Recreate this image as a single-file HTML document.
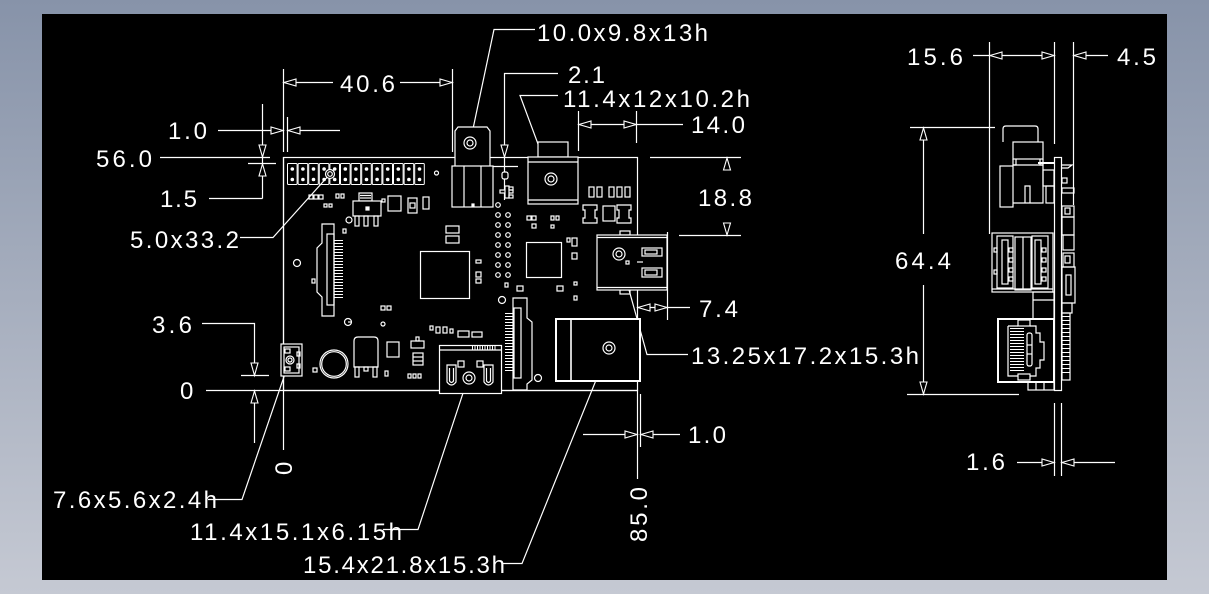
<!DOCTYPE html>
<html><head><meta charset="utf-8">
<style>
html,body{margin:0;padding:0;width:1209px;height:594px;overflow:hidden;background:linear-gradient(#8793a9,#c5c9d3);}
svg{display:block}
text{font-family:"Liberation Sans",sans-serif;font-size:24px;fill:#fff;}
</style></head><body>
<svg width="1209" height="594" viewBox="0 0 1209 594">
<rect x="42" y="14" width="1125" height="566" fill="#000"/>

<!-- ============ DIMENSION LINES ============ -->
<g stroke="#fff" stroke-width="1.2" fill="none">
  <line x1="283.5" y1="69" x2="283.5" y2="152"/>
  <line x1="452.5" y1="69" x2="452.5" y2="152"/>
  <line x1="283" y1="82.5" x2="333" y2="82.5"/>
  <line x1="400" y1="82.5" x2="452" y2="82.5"/>
  <line x1="218" y1="130.5" x2="283" y2="130.5"/>
  <line x1="287.5" y1="117" x2="287.5" y2="152"/>
  <line x1="288" y1="130.5" x2="340" y2="130.5"/>
  <line x1="262.5" y1="104" x2="262.5" y2="198.5"/>
  <line x1="160" y1="157.5" x2="270" y2="157.5"/>
  <line x1="248" y1="163.5" x2="276" y2="163.5"/>
  <line x1="209" y1="198.5" x2="262.5" y2="198.5"/>
  <polyline points="240,237.5 273,237.5 330,174"/>
  <polyline points="535,29.5 494,29.5 470,143"/>
  <polyline points="558,73.5 504.5,73.5 504.5,200"/>
  <polyline points="558,95.5 520,95.5 551,179"/>
  <line x1="578.5" y1="111" x2="578.5" y2="151"/>
  <line x1="636.5" y1="111" x2="636.5" y2="143"/>
  <line x1="580" y1="124.5" x2="683" y2="124.5"/>
  <line x1="650" y1="157.5" x2="741" y2="157.5"/>
  <line x1="679" y1="235.5" x2="741" y2="235.5"/>
  <line x1="637" y1="307.5" x2="690" y2="307.5"/>
  <line x1="667.5" y1="232" x2="667.5" y2="320"/>
  <polyline points="688,354.5 647,354.5 619,254"/>
  <line x1="583" y1="434.5" x2="637" y2="434.5"/>
  <line x1="637.5" y1="390" x2="637.5" y2="479"/>
  <line x1="640.5" y1="394" x2="640.5" y2="447"/>
  <line x1="641" y1="434.5" x2="680" y2="434.5"/>
  <polyline points="202,323.5 254.5,323.5 254.5,375"/>
  <line x1="241" y1="375.5" x2="269" y2="375.5"/>
  <line x1="206" y1="390.5" x2="637" y2="390.5"/>
  <line x1="254.5" y1="390.5" x2="254.5" y2="443"/>
  <line x1="283.5" y1="157" x2="283.5" y2="450"/>
  <polyline points="208,499.5 242,499.5 289,362"/>
  <polyline points="383,529.5 418,529.5 468,378"/>
  <polyline points="503,563.5 522,563.5 609,348"/>

  <line x1="973" y1="55.5" x2="1054" y2="55.5"/>
  <line x1="989.5" y1="42" x2="989.5" y2="234"/>
  <line x1="1054.5" y1="42" x2="1054.5" y2="144"/>
  <line x1="1073.5" y1="42" x2="1073.5" y2="205"/>
  <line x1="1074" y1="55.5" x2="1108" y2="55.5"/>
  <line x1="910" y1="127.5" x2="995" y2="127.5"/>
  <line x1="923.5" y1="127" x2="923.5" y2="234"/>
  <line x1="923.5" y1="285" x2="923.5" y2="394"/>
  <line x1="907" y1="394.5" x2="1019" y2="394.5"/>
  <line x1="1017" y1="462.5" x2="1054" y2="462.5"/>
  <line x1="1054.5" y1="403" x2="1054.5" y2="476"/>
  <line x1="1061.5" y1="403" x2="1061.5" y2="476"/>
  <line x1="1062" y1="462.5" x2="1115" y2="462.5"/>
</g>

<g stroke="#fff" stroke-width="1.1" fill="#000">
  <polygon points="284,82.5 296,79 296,86"/>
  <polygon points="452,82.5 440,79 440,86"/>
  <polygon points="283,130.5 271,127 271,134"/>
  <polygon points="288,130.5 300,127 300,134"/>
  <polygon points="262.5,157 259,145 266,145"/>
  <polygon points="262.5,164 259,176 266,176"/>
  <polygon points="504.5,157 501,145 508,145"/>
  <polygon points="579,124.5 591,121 591,128"/>
  <polygon points="636,124.5 624,121 624,128"/>
  <polygon points="727,158 723.5,170 730.5,170"/>
  <polygon points="727,235 723.5,223 730.5,223"/>
  <polygon points="638,307.5 650,304 650,311"/>
  <polygon points="667,307.5 655,304 655,311"/>
  <polygon points="637,434.5 625,431 625,438"/>
  <polygon points="641,434.5 653,431 653,438"/>
  <polygon points="254.5,375.5 251,363 258,363"/>
  <polygon points="254.5,391 251,403 258,403"/>
  <polygon points="990,55.5 1002,52 1002,59"/>
  <polygon points="1054,55.5 1042,52 1042,59"/>
  <polygon points="1074,55.5 1086,52 1086,59"/>
  <polygon points="923.5,128 920,140 927,140"/>
  <polygon points="923.5,394 920,382 927,382"/>
  <polygon points="1054,462.5 1042,459 1042,466"/>
  <polygon points="1062,462.5 1074,459 1074,466"/>
</g>

<!-- ============ BOARD TOP VIEW ============ -->
<g stroke="#fff" stroke-width="1.2" fill="none">
  <rect x="283.5" y="157.5" width="354" height="233"/>
  <line x1="491" y1="166.5" x2="518" y2="166.5"/>

  <g stroke-width="1">
    <rect x="287.5" y="163.5" width="9.6" height="21" rx="1"/>
    <rect x="298.1" y="163.5" width="9.6" height="21" rx="1"/>
    <rect x="308.7" y="163.5" width="9.6" height="21" rx="1"/>
    <rect x="319.3" y="163.5" width="9.6" height="21" rx="1"/>
    <rect x="329.9" y="163.5" width="9.6" height="21" rx="1"/>
    <rect x="340.5" y="163.5" width="9.6" height="21" rx="1"/>
    <rect x="351.1" y="163.5" width="9.6" height="21" rx="1"/>
    <rect x="361.7" y="163.5" width="9.6" height="21" rx="1"/>
    <rect x="372.3" y="163.5" width="9.6" height="21" rx="1"/>
    <rect x="382.9" y="163.5" width="9.6" height="21" rx="1"/>
    <rect x="393.5" y="163.5" width="9.6" height="21" rx="1"/>
    <rect x="404.1" y="163.5" width="9.6" height="21" rx="1"/>
    <rect x="414.7" y="163.5" width="9.6" height="21" rx="1"/>
  </g>
  <g fill="#fff" stroke="none">
    <circle cx="292.3" cy="169" r="1.8"/><circle cx="292.3" cy="179.5" r="1.8"/>
    <circle cx="302.9" cy="169" r="1.8"/><circle cx="302.9" cy="179.5" r="1.8"/>
    <circle cx="313.5" cy="169" r="1.8"/><circle cx="313.5" cy="179.5" r="1.8"/>
    <circle cx="324.1" cy="169" r="1.8"/><circle cx="324.1" cy="179.5" r="1.8"/>
    <circle cx="334.7" cy="169" r="1.8"/><circle cx="334.7" cy="179.5" r="1.8"/>
    <circle cx="345.3" cy="169" r="1.8"/><circle cx="345.3" cy="179.5" r="1.8"/>
    <circle cx="355.9" cy="169" r="1.8"/><circle cx="355.9" cy="179.5" r="1.8"/>
    <circle cx="366.5" cy="169" r="1.8"/><circle cx="366.5" cy="179.5" r="1.8"/>
    <circle cx="377.1" cy="169" r="1.8"/><circle cx="377.1" cy="179.5" r="1.8"/>
    <circle cx="387.7" cy="169" r="1.8"/><circle cx="387.7" cy="179.5" r="1.8"/>
    <circle cx="398.3" cy="169" r="1.8"/><circle cx="398.3" cy="179.5" r="1.8"/>
    <circle cx="408.9" cy="169" r="1.8"/><circle cx="408.9" cy="179.5" r="1.8"/>
    <circle cx="419.5" cy="169" r="1.8"/><circle cx="419.5" cy="179.5" r="1.8"/>
  </g>
  <circle cx="330" cy="174" r="4.5" fill="#000"/>
  <circle cx="330" cy="174" r="2.3"/>
  <circle cx="436.5" cy="173" r="2"/>

  <rect x="309" y="195" width="4" height="4"/>
  <rect x="314" y="195" width="4" height="4"/>
  <rect x="319" y="195" width="4" height="4"/>
  <rect x="336" y="194" width="3" height="4"/>
  <rect x="341" y="194" width="3" height="4"/>
  <rect x="324" y="204" width="3" height="3"/>
  <rect x="329" y="204" width="3" height="3"/>

  <rect x="359" y="193" width="13" height="8"/>
  <line x1="360" y1="195.5" x2="371" y2="195.5"/>
  <line x1="360" y1="198" x2="371" y2="198"/>
  <rect x="353" y="201" width="28" height="15" fill="#000"/>
  <rect x="366" y="207" width="3" height="3" fill="#fff"/>
  <rect x="355" y="216" width="4" height="10"/>
  <rect x="364" y="216" width="4" height="10"/>
  <rect x="374" y="216" width="4" height="10"/>
  <rect x="382" y="199" width="3" height="3"/>
  <circle cx="349" cy="220" r="3"/>

  <rect x="388" y="196" width="13" height="15"/>
  <rect x="408" y="198" width="9" height="15"/>
  <rect x="410" y="203" width="5" height="5"/>
  <rect x="423" y="197" width="6" height="12"/>

  <path d="M322,224 H334 V316 H322 V297 L317,292 V248 L322,243 Z"/>
  <rect x="327" y="234" width="7" height="71"/>
  <line x1="338.5" y1="240" x2="338.5" y2="300" stroke-width="9" stroke-dasharray="1 2"/>
  <rect x="343" y="229" width="3" height="4"/>
  <rect x="312" y="279" width="3" height="4"/>
  <circle cx="297" cy="263" r="3.5"/>

  <rect x="446" y="226" width="13" height="7"/>
  <rect x="446" y="236" width="13" height="7"/>
  <rect x="420.5" y="251.5" width="49" height="47"/>
  <rect x="476" y="260" width="5" height="3"/>
  <rect x="476" y="272" width="5" height="5"/>
  <rect x="476" y="279" width="5" height="4"/>

  <circle cx="498" cy="205" r="2.3"/>
  <circle cx="498" cy="215" r="2.3"/><circle cx="508" cy="215" r="2.3"/>
  <circle cx="498" cy="225" r="2.3"/><circle cx="508" cy="225" r="2.3"/>
  <circle cx="498" cy="235" r="2.3"/><circle cx="508" cy="235" r="2.3"/>
  <circle cx="498" cy="245" r="2.3"/><circle cx="508" cy="245" r="2.3"/>
  <circle cx="498" cy="255" r="2.3"/><circle cx="508" cy="255" r="2.3"/>
  <circle cx="498" cy="265" r="2.3"/><circle cx="508" cy="265" r="2.3"/>
  <circle cx="498" cy="275" r="2.3"/><circle cx="508" cy="275" r="2.3"/>
  <rect x="505" y="283" width="3" height="4"/>
  <circle cx="502" cy="300" r="3.5"/>

  <rect x="502" y="172" width="6" height="7" rx="2" fill="#000"/>
  <rect x="500" y="190" width="13" height="3" fill="#000"/>
  <rect x="505" y="186" width="4" height="12" fill="#000"/>
  <rect x="509" y="187" width="4" height="3"/>
  <rect x="509" y="195" width="4" height="3"/>

  <path d="M455,167 V131 L458,127 H487 L490,131 V167 Z" fill="#000"/>
  <circle cx="470" cy="143" r="6"/>
  <circle cx="470" cy="143" r="3"/>
  <rect x="452" y="166" width="41" height="41" fill="#000"/>
  <line x1="464" y1="166" x2="464" y2="207"/>
  <line x1="481" y1="166" x2="481" y2="207"/>
  <rect x="472" y="204" width="2" height="2" fill="#fff"/>

  <rect x="538" y="142" width="30" height="15" fill="#000"/>
  <rect x="528" y="157" width="50" height="47" fill="#000"/>
  <line x1="528" y1="162" x2="578" y2="162"/>
  <line x1="528" y1="200" x2="578" y2="200"/>
  <circle cx="551" cy="179" r="6"/>
  <circle cx="551" cy="179" r="3"/>

  <rect x="589" y="187" width="5" height="10"/>
  <rect x="597" y="187" width="5" height="10"/>
  <rect x="609" y="187" width="5" height="10"/>
  <rect x="617" y="187" width="5" height="10"/>
  <rect x="625" y="187" width="5" height="10"/>
  <path d="M583,205 H597 V210 H595 V218 H597 V223 H583 V218 H585 V210 H583 Z"/>
  <rect x="603" y="206" width="12" height="15"/>
  <path d="M617,205 H631 V210 H629 V218 H631 V223 H617 V218 H619 V210 H617 Z"/>
  <rect x="527" y="216" width="4" height="4"/>
  <rect x="532" y="216" width="4" height="4"/>
  <rect x="551" y="216" width="3" height="4"/>
  <rect x="556" y="216" width="3" height="4"/>
  <rect x="532" y="224" width="4" height="4"/>
  <rect x="551" y="225" width="3" height="3"/>
  <rect x="526.5" y="242.5" width="35" height="35"/>
  <rect x="567" y="238" width="3" height="4"/>
  <rect x="572" y="238" width="5" height="8"/>
  <rect x="572" y="253" width="5" height="6"/>
  <rect x="517" y="286" width="6" height="5"/>
  <rect x="557" y="286" width="6" height="5"/>
  <rect x="574" y="282" width="3" height="3"/>
  <rect x="574" y="296" width="3" height="4"/>

  <rect x="620" y="231" width="10" height="4"/>
  <rect x="620" y="290" width="10" height="4"/>
  <rect x="597" y="235" width="70" height="55" fill="#000"/>
  <line x1="597" y1="237.5" x2="667" y2="237.5"/>
  <line x1="597" y1="287.5" x2="667" y2="287.5"/>
  <circle cx="619" cy="254" r="6"/>
  <circle cx="619" cy="254" r="3"/>
  <rect x="642" y="248" width="20" height="8"/>
  <rect x="645" y="250" width="12" height="4"/>
  <rect x="642" y="268" width="20" height="9"/>
  <rect x="645" y="270" width="12" height="5"/>
  <rect x="626" y="261" width="3" height="3"/>
  <line x1="637" y1="262" x2="643" y2="262"/>

  <path d="M513,298 H527 V318 L532,322 V380 L527,384 V390 H513 Z" fill="#000"/>
  <rect x="514" y="308" width="7" height="70"/>
  <line x1="509.5" y1="313" x2="509.5" y2="373" stroke-width="9" stroke-dasharray="1 2"/>
  <circle cx="538" cy="378" r="3.5"/>

  <rect x="556" y="319" width="84" height="62" fill="#000" stroke-width="2"/>
  <line x1="571" y1="319" x2="571" y2="381" stroke-width="1.6"/>
  <circle cx="609" cy="348" r="6"/>
  <circle cx="609" cy="348" r="3"/>

  <line x1="348" y1="322" x2="352" y2="322"/>
  <circle cx="348" cy="322" r="3.5"/>
  <circle cx="383" cy="324" r="2"/>
  <rect x="381" y="306" width="4" height="4"/>
  <rect x="387" y="306" width="4" height="4"/>

  <rect x="281" y="344" width="21" height="32" fill="#000"/>
  <rect x="284" y="347" width="15" height="26"/>
  <rect x="285" y="349" width="5" height="4"/>
  <rect x="285" y="367" width="5" height="4"/>
  <rect x="297" y="352" width="3" height="4"/>
  <rect x="297" y="364" width="3" height="4"/>
  <circle cx="290" cy="360" r="4"/>
  <circle cx="290" cy="360" r="2"/>

  <rect x="313" y="368" width="4" height="4"/>
  <circle cx="334" cy="364" r="14"/>
  <circle cx="334" cy="364" r="12.3"/>

  <path d="M354,367 V341 Q354,337 358,337 H374 Q378,337 378,341 V367 Z"/>
  <rect x="355" y="367" width="4" height="10"/>
  <rect x="364" y="367" width="4" height="4"/>
  <rect x="373" y="367" width="4" height="10"/>
  <rect x="385" y="371" width="3" height="5"/>
  <rect x="387" y="342" width="12" height="15"/>

  <rect x="411" y="341" width="13" height="7"/>
  <rect x="416" y="337" width="3" height="4"/>
  <rect x="413" y="353" width="10" height="12"/>
  <line x1="413" y1="357" x2="423" y2="357"/>
  <line x1="413" y1="361" x2="423" y2="361"/>
  <rect x="408" y="374" width="3" height="4"/>
  <rect x="413" y="374" width="3" height="4"/>
  <rect x="418" y="374" width="3" height="4"/>

  <rect x="430" y="326" width="3" height="4"/>
  <rect x="436" y="327" width="4" height="6"/>
  <rect x="443" y="327" width="4" height="6"/>
  <rect x="450" y="329" width="3" height="4"/>
  <rect x="458" y="331" width="11" height="6"/>
  <rect x="472" y="332" width="10" height="5"/>

  <rect x="439.5" y="345.5" width="62" height="48" fill="#000"/>
  <line x1="440" y1="350" x2="501" y2="350"/>
  <line x1="472" y1="347.5" x2="497" y2="347.5" stroke-width="4" stroke-dasharray="1 1.5"/>
  <path d="M447,365 V382 Q451.5,388 456,382 V365 Z"/>
  <path d="M449.5,368 V381 Q451.5,384 453.5,381 V368"/>
  <path d="M484,365 V382 Q488.5,388 493,382 V365 Z"/>
  <path d="M486.5,368 V381 Q488.5,384 490.5,381 V368"/>
  <rect x="458" y="361" width="6" height="6"/>
  <rect x="477" y="361" width="6" height="6"/>
  <circle cx="469" cy="378" r="6"/>
  <circle cx="469" cy="378" r="3"/>
</g>

<!-- ============ SIDE VIEW ============ -->
<g stroke="#fff" stroke-width="1.2" fill="none">
  <path d="M1003,142 V129 Q1003,126 1006,126 H1035 Q1038,126 1038,129 V142"/>
  <rect x="1013" y="142" width="30" height="17"/>
  <path d="M1013,159 V165 H1016 V159 M1040,159 V165 H1043 V159"/>
  <rect x="1000" y="166" width="13" height="41"/>
  <path d="M1013,165 H1043 V203 H1013"/>
  <path d="M1025,203 V186 H1030 V203"/>
  <line x1="1038" y1="163" x2="1054" y2="163" stroke-width="2"/>
  <rect x="1043" y="170" width="11" height="16"/>
  <rect x="1046" y="186" width="8" height="17"/>

  <rect x="1054.5" y="157.5" width="7" height="233" fill="#000"/>

  <path d="M1062,165 H1072 L1068,168 H1062"/>
  <rect x="1062" y="178" width="5" height="5"/>
  <rect x="1062" y="188" width="12" height="5"/>
  <rect x="1062" y="206" width="12" height="11"/>
  <rect x="1065" y="208" width="5" height="6"/>
  <rect x="1062" y="217" width="12" height="18"/>
  <rect x="1063" y="235" width="11" height="15"/>
  <rect x="1063" y="253" width="11" height="14"/>
  <rect x="1065" y="256" width="5" height="7"/>
  <rect x="1062" y="267" width="13" height="36"/>
  <rect x="1066" y="275" width="5" height="20"/>
  <rect x="1062" y="303" width="10" height="10"/>
  <rect x="1062" y="313" width="8" height="67"/>
  <line x1="1066" y1="316" x2="1066" y2="376" stroke-width="8" stroke-dasharray="1 3"/>

  <rect x="992" y="233" width="61" height="59" fill="#000"/>
  <rect x="997" y="236" width="16" height="52"/>
  <rect x="1002" y="240" width="6" height="44"/>
  <rect x="1009" y="248" width="4" height="4"/>
  <rect x="1009" y="258" width="4" height="4"/>
  <rect x="1009" y="268" width="4" height="4"/>
  <rect x="1009" y="277" width="4" height="4"/>
  <rect x="994" y="248" width="3" height="4"/>
  <rect x="994" y="270" width="3" height="4"/>
  <rect x="1015" y="237" width="16" height="53"/>
  <line x1="1023" y1="237" x2="1023" y2="290"/>
  <rect x="1032" y="236" width="16" height="52"/>
  <rect x="1035" y="240" width="6" height="44"/>
  <rect x="1042" y="248" width="4" height="4"/>
  <rect x="1042" y="258" width="4" height="4"/>
  <rect x="1042" y="268" width="4" height="4"/>
  <rect x="1042" y="277" width="4" height="4"/>
  <line x1="992" y1="289" x2="1053" y2="289"/>

  <rect x="1033" y="292" width="21" height="27"/>
  <line x1="1033" y1="300" x2="1054" y2="300"/>

  <rect x="998" y="319" width="56" height="63" fill="#000" stroke-width="2"/>
  <rect x="1018" y="320" width="12" height="6"/>
  <rect x="1018" y="374" width="12" height="6"/>
  <path d="M1008,326 H1018 M1030,326 H1036 V333 H1040 V342 H1044 V360 H1040 V368 H1036 V376 H1030 M1018,376 H1008 V326"/>
  <line x1="1017" y1="328" x2="1017" y2="372" stroke-width="14" stroke-dasharray="1 2"/>
  <rect x="1027" y="333" width="5" height="33" rx="2"/>
  <line x1="1027" y1="345" x2="1032" y2="345"/>
  <line x1="1027" y1="354" x2="1032" y2="354"/>
  <rect x="1028" y="382" width="26" height="8"/>
  <line x1="1036" y1="382" x2="1036" y2="390"/>
  <line x1="1044" y1="382" x2="1044" y2="390"/>
</g>

<!-- ============ TEXT ============ -->
<text x="340" y="92" textLength="55" lengthAdjust="spacing">40.6</text>
<text x="168" y="139" textLength="39" lengthAdjust="spacing">1.0</text>
<text x="96" y="167" textLength="56" lengthAdjust="spacing">56.0</text>
<text x="160" y="207" textLength="37" lengthAdjust="spacing">1.5</text>
<text x="130" y="248" textLength="109" lengthAdjust="spacing">5.0x33.2</text>
<text x="537" y="41" textLength="171" lengthAdjust="spacing">10.0x9.8x13h</text>
<text x="568" y="83" textLength="37" lengthAdjust="spacing">2.1</text>
<text x="563" y="107" textLength="187" lengthAdjust="spacing">11.4x12x10.2h</text>
<text x="691" y="133" textLength="54" lengthAdjust="spacing">14.0</text>
<text x="698" y="206" textLength="54" lengthAdjust="spacing">18.8</text>
<text x="699" y="317" textLength="39" lengthAdjust="spacing">7.4</text>
<text x="691" y="364" textLength="228" lengthAdjust="spacing">13.25x17.2x15.3h</text>
<text x="688" y="443" textLength="38" lengthAdjust="spacing">1.0</text>
<text transform="translate(647,542) rotate(-90)" textLength="55" lengthAdjust="spacing">85.0</text>
<text x="152" y="333" textLength="40" lengthAdjust="spacing">3.6</text>
<text x="180" y="399">0</text>
<text transform="translate(292,475) rotate(-90)">0</text>
<text x="53" y="508" textLength="164" lengthAdjust="spacing">7.6x5.6x2.4h</text>
<text x="190" y="540" textLength="212" lengthAdjust="spacing">11.4x15.1x6.15h</text>
<text x="303" y="573" textLength="202" lengthAdjust="spacing">15.4x21.8x15.3h</text>
<text x="907" y="65" textLength="56" lengthAdjust="spacing">15.6</text>
<text x="1117" y="65" textLength="39" lengthAdjust="spacing">4.5</text>
<text x="895" y="269" textLength="56" lengthAdjust="spacing">64.4</text>
<text x="966" y="470" textLength="39" lengthAdjust="spacing">1.6</text>
</svg>
</body></html>
